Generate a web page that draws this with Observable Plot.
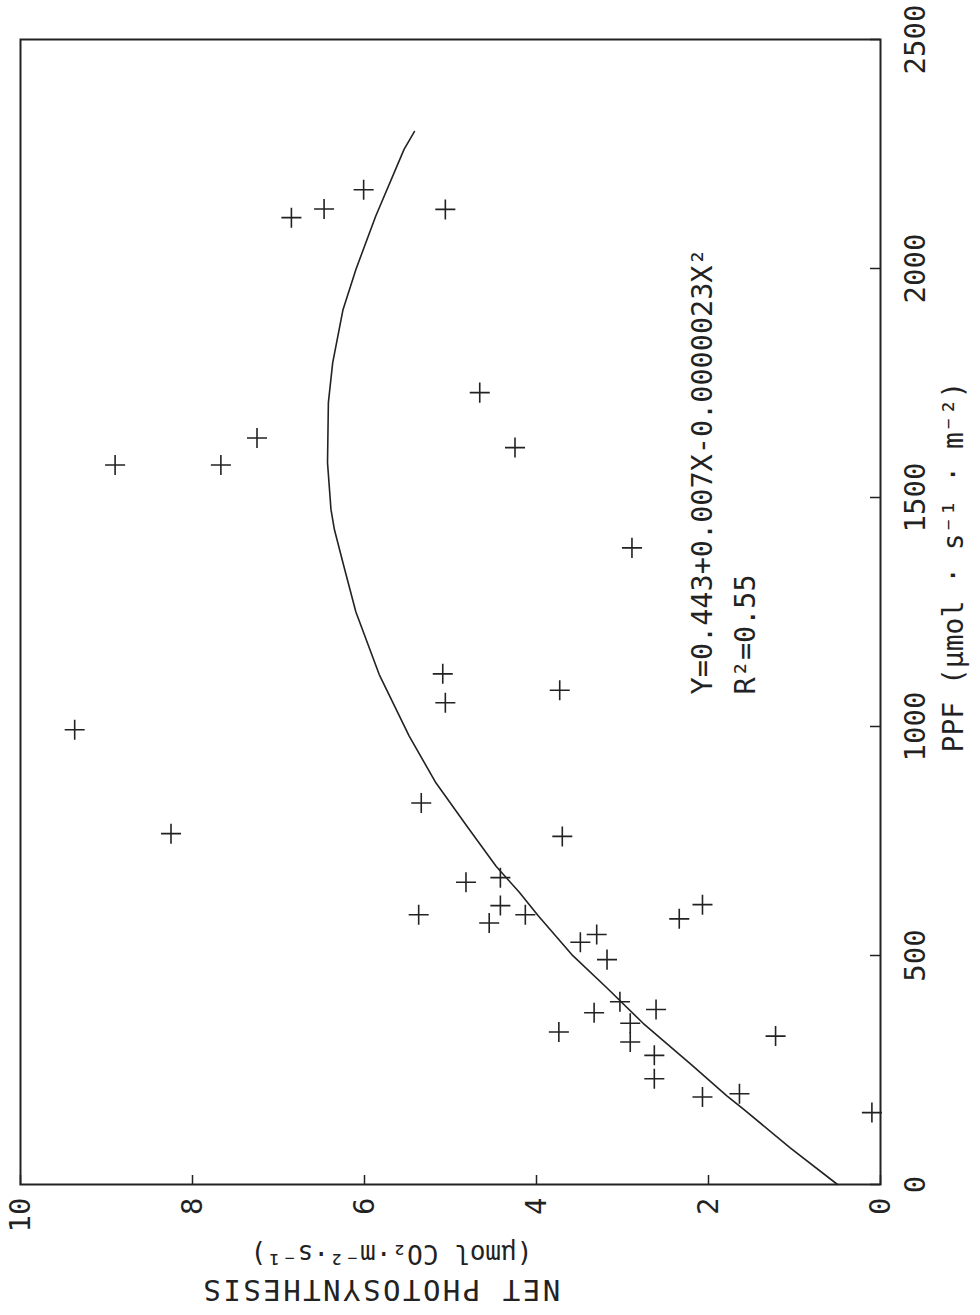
<!DOCTYPE html>
<html><head><meta charset="utf-8">
<script src="https://cdn.jsdelivr.net/npm/d3@7"></script>
<script src="https://cdn.jsdelivr.net/npm/@observablehq/plot@0.6"></script>
<style>
html,body{margin:0;padding:0;background:#fff;}
#wrap{position:relative;width:980px;height:1315px;overflow:hidden;background:#fff;}
#wrap svg{position:absolute;left:0;top:0;width:1315px !important;height:980px !important;max-width:none !important;transform-origin:0 0;transform:translate(0px,1315px) rotate(-90deg);}
</style></head><body><div id="wrap"></div>
<script>
// Observations: PPF (µmol·s⁻¹·m⁻²) and net photosynthesis (µmol CO2·m⁻²·s⁻¹)
const ppf = [157,198,191,324,231,282,382,311,352,333,375,399,491,529,546,580,611,589,571,589,609,670,660,760,833,766,993,1052,1115,1079,1609,1390,1571,1571,1630,1729,2111,2130,2172,2129];
const netPhoto = [0.10,1.64,2.07,1.22,2.63,2.63,2.61,2.91,2.91,3.74,3.33,3.03,3.18,3.49,3.30,2.34,2.07,4.13,4.55,5.37,4.42,4.42,4.82,3.70,5.34,8.25,9.37,5.06,5.09,3.73,4.25,2.89,8.90,7.67,7.25,4.66,6.85,6.47,6.01,5.06];
// Fitted curve
const curvePPF = [0,80,164,194,260,352,429,502,587,638,695,780,877,979,1114,1250,1350,1430,1474,1576,1707,1794,1910,1998,2114,2260,2299];
const curveNP = [0.50,1.05,1.59,1.79,2.19,2.76,3.18,3.59,3.98,4.20,4.47,4.80,5.17,5.48,5.83,6.10,6.24,6.35,6.39,6.43,6.42,6.37,6.25,6.10,5.87,5.54,5.42];
const ppfTicks = [0,500,1000,1500,2000,2500];
const npTicks = [0,2,4,6,8,10];
const equationText = "Y=0.443+0.007X-0.0000023X²";
const r2Text = "R²=0.55";
const xTitle = "PPF (μmol · s⁻¹ · m⁻²)";
const yTitle1 = "NET PHOTOSYNTHESIS";
const yTitle2 = "(μmol CO₂·m⁻²·s⁻¹)";

const points = ppf.map((x, i) => ({ppf: x, np: netPhoto[i]}));
const curve = curvePPF.map((x, i) => ({ppf: x, np: curveNP[i]}));
const ink = "#222";
const font = "DejaVu Sans Mono, Liberation Mono, monospace";
const fmt = d => String(d);

const chart = Plot.plot({
  width: 1315, height: 980,
  marginLeft: 130, marginRight: 40, marginTop: 20, marginBottom: 100,
  style: {fontFamily: font, background: "#fff", color: ink},
  x: {domain: [0, 2500]},
  y: {domain: [0, 10]},
  marks: [
    Plot.frame({stroke: ink, strokeWidth: 2}),
    Plot.axisX(ppfTicks, {tickSize: 0, tickPadding: 24, fontSize: 29, label: null, fill: ink, tickFormat: fmt}),
    Plot.axisY(npTicks, {tickSize: 0, tickPadding: 13, fontSize: 29, label: null, fill: ink, tickFormat: fmt}),
    Plot.ruleX(ppfTicks, {x: d => d, y1: 0, y2: 0, insetTop: -10, stroke: ink, strokeWidth: 1.5}),
    Plot.ruleY(npTicks, {y: d => d, x1: 0, x2: 0, insetRight: -10, stroke: ink, strokeWidth: 1.5}),
    Plot.line(curve, {x: "ppf", y: "np", stroke: ink, strokeWidth: 1.6}),
    Plot.dot(points, {x: "ppf", y: "np", symbol: "plus", r: 6.5, stroke: ink, strokeWidth: 1.6}),
    Plot.text([equationText], {x: () => 1070, y: () => 1.96, text: d => d, textAnchor: "start", lineAnchor: "bottom", fontSize: 28.5, fill: ink}),
    Plot.text([r2Text], {x: () => 1070, y: () => 1.46, text: d => d, textAnchor: "start", lineAnchor: "bottom", fontSize: 28.5, fill: ink}),
    Plot.text([xTitle], {frameAnchor: "bottom", dx: 45, dy: 82, text: d => d, textAnchor: "middle", lineAnchor: "bottom", fontSize: 28, fill: ink}),
    Plot.text([yTitle1], {frameAnchor: "left", dx: -105, dy: -70, rotate: -90, text: d => d, textAnchor: "middle", lineAnchor: "middle", fontSize: 29, fill: ink}),
    Plot.text([yTitle2], {frameAnchor: "left", dx: -69, dy: -59, rotate: -90, text: d => d, textAnchor: "middle", lineAnchor: "middle", fontSize: 26, fill: ink})
  ]
});
// wider letter spacing on the main y title, as in the original plotter lettering
d3.select(chart).selectAll("text").filter(function() { return this.textContent === yTitle1; }).attr("letter-spacing", 2.5);
document.getElementById("wrap").appendChild(chart);
</script>
</body></html>
